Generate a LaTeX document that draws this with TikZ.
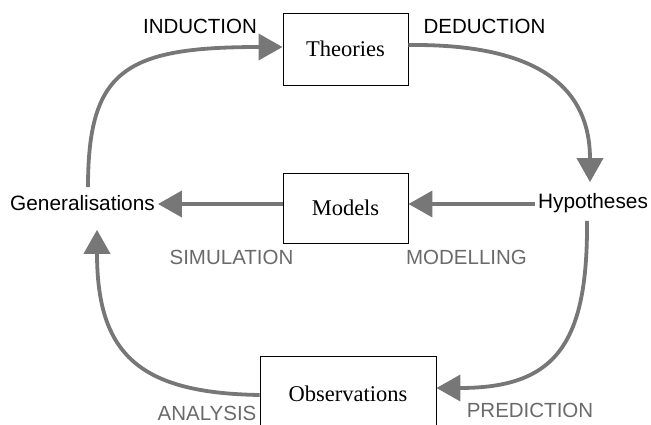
\documentclass[tikz,border=0pt]{standalone}
\usepackage{fontspec}
\setmainfont{Liberation Serif}
\newfontfamily\labfont{Liberation Sans}
\usetikzlibrary{arrows.meta}
\definecolor{arrgray}{HTML}{777777}
\definecolor{labgray}{HTML}{6A6A6A}
\begin{document}
\begin{tikzpicture}[x=1pt,y=-1pt,
  box/.style={draw=black,line width=0.9pt,minimum width=125pt,font=\fontsize{22.5}{24}\selectfont,inner sep=0pt},
  term/.style={font=\labfont\fontsize{20.8}{22}\selectfont,text=black,inner sep=1pt},
  blacklab/.style={font=\labfont\fontsize{20.5}{22}\selectfont,text=black,inner sep=0pt},
  graylab/.style={font=\labfont\fontsize{20.5}{22}\selectfont,text=labgray,inner sep=0pt},
  arr/.style={draw=arrgray,line width=3.8pt,-{Triangle[length=24pt,width=26pt]}}]
\useasboundingbox (0,0) rectangle (651,424);
\clip (0,0) rectangle (651,424);
% boxes
\node[box,minimum height=72pt] (theo) at (345.5,49) {Theories};
\node[box,minimum height=70pt] (mod) at (345.5,208) {Models};
\node[box,minimum width=176pt,minimum height=76pt] (obs) at (348,394) {Observations};
% terms
\node[term] (gen) at (82.5,203) {Generalisations};
\node[term] (hyp) at (593,203) {Hypotheses};
% labels
\node[blacklab] (ind) at (200,26) {INDUCTION};
\node[blacklab] (ded) at (484.5,26) {DEDUCTION};
\node[graylab] (sim) at (231.5,257) {SIMULATION};
\node[graylab] (mdl) at (466.5,257) {MODELLING};
\node[graylab] (ana) at (207,413) {ANALYSIS};
\node[graylab] (pre) at (530,410) {PREDICTION};
% connector end points
\coordinate (hw) at ([xshift=-2pt,yshift=-1pt]hyp.west);
\coordinate (ge) at ([xshift=2pt,yshift=-1pt]gen.east);
% arrows
\draw[arr] ([xshift=5.5pt,yshift=7pt]gen.north) .. controls (88,70) and (125,47) .. ([yshift=2pt]theo.west);
\draw[arr] ([yshift=4pt]theo.east) .. controls (510,44) and (590,70) .. ([xshift=-3pt,yshift=10pt]hyp.north);
\draw[arr] (hw) -- (mod.east |- hw);
\draw[arr] (mod.west |- ge) -- (ge);
\draw[arr] ([xshift=-6pt,yshift=-7pt]hyp.south) .. controls (588,345) and (555,388) .. ([yshift=6pt]obs.east);
\draw[arr] ([yshift=-1pt]obs.west) .. controls (140,393) and (97,355) .. ([xshift=14.5pt,yshift=-18pt]gen.south);
\end{tikzpicture}
\end{document}
